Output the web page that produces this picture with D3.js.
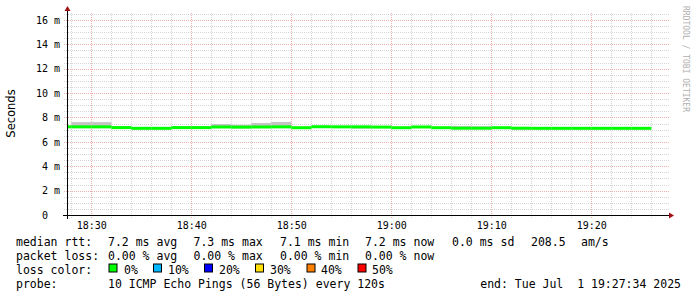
<!DOCTYPE html>
<html>
<head>
<meta charset="utf-8">
<script src="https://cdn.jsdelivr.net/npm/d3@7"></script>
<style>
    body { margin: 0; background: #fff; }
    svg { display: block; }
</style>
</head>
<body>
<div id="chart"></div>
<script>
// step boundaries (2025-07-01), one more than the number of steps
const stepBounds = ["18:26","18:28","18:30","18:32","18:34","18:36","18:38","18:40","18:42","18:44",
    "18:46","18:48","18:50","18:52","18:54","18:56","18:58","19:00","19:02","19:04",
    "19:06","19:08","19:10","19:12","19:14","19:16","19:18","19:20","19:22","19:24","19:26"];

// median rtt per step (ms)
const medianMs = [7.23, 7.23, 7.23, 7.17, 7.11, 7.11, 7.17, 7.17, 7.22, 7.21,
    7.22, 7.23, 7.16, 7.24, 7.23, 7.23, 7.21, 7.16, 7.22, 7.16,
    7.12, 7.12, 7.16, 7.12, 7.11, 7.11, 7.11, 7.11, 7.11, 7.11];

// smoke (spread of pings) per step (ms)
const smokeHiMs = [7.25, 7.62, 7.62, 7.30, 7.13, 7.13, 7.19, 7.19, 7.46, 7.40,
    7.55, 7.63, 7.18, 7.26, 7.25, 7.25, 7.23, 7.18, 7.24, 7.18,
    7.30, 7.28, 7.18, 7.14, 7.13, 7.13, 7.13, 7.13, 7.13, 7.13];
const smokeLoMs = [7.20, 7.18, 7.18, 7.14, 7.09, 7.09, 7.14, 7.14, 7.19, 7.10,
    7.19, 7.20, 7.14, 7.21, 7.20, 7.08, 7.19, 7.14, 7.19, 7.14,
    7.10, 7.10, 7.14, 7.00, 7.09, 7.09, 7.09, 7.09, 7.09, 7.09];

const xTickLabels = ["18:30", "18:40", "18:50", "19:00", "19:10", "19:20"];
const yTickValues = [0, 2, 4, 6, 8, 10, 12, 14, 16];

const legendRtt = ["median rtt:", "7.2 ms avg", "7.3 ms max", "7.1 ms min", "7.2 ms now", "0.0 ms sd", "208.5", "am/s"];
const legendLoss = ["packet loss:", "0.00 % avg", "0.00 % max", "0.00 % min", "0.00 % now"];
const lossLabels = ["0%", "10%", "20%", "30%", "40%", "50%"];
const lossColors = ["#00ff00", "#00b8ff", "#0000ff", "#ffe000", "#ff8000", "#ff0000"];
const probeText = "10 ICMP Echo Pings (56 Bytes) every 120s";
const endText = "end: Tue Jul  1 19:27:34 2025";
const startTime = "18:27:34", endTime = "19:27:34";

const parseTime = d3.timeParse("%Y-%m-%d %H:%M:%S");
const t = s => parseTime("2025-07-01 " + (s.length === 5 ? s + ":00" : s));

const W = 697, H = 297;
const plot = {left: 67, right: 667, top: 13, bottom: 215};
const mono = "'DejaVu Sans Mono', monospace";

const svg = d3.select("#chart").append("svg")
    .attr("width", W)
    .attr("height", H)
    .style("background", "#fff");

// scales
const x = d3.scaleTime()
    .domain([t(startTime), t(endTime)])
    .range([plot.left, plot.right]);
const y = d3.scaleLinear()
    .domain([0, 16.57])
    .range([plot.bottom, plot.top]);

// grid: minor first, major on top
const gridG = svg.append("g").attr("class", "grid");
const minorY = d3.range(0, 16.6, 0.5).filter(v => v % 2 !== 0);
gridG.selectAll(".hminor").data(minorY).enter().append("line")
    .attr("x1", plot.left - 3).attr("x2", plot.right + 2)
    .attr("y1", d => Math.round(y(d)) + 0.5).attr("y2", d => Math.round(y(d)) + 0.5)
    .attr("stroke", "#d6d6d6").attr("stroke-dasharray", "1,1");
const minorX = x.ticks(d3.timeMinute.every(2)).filter(d => d.getMinutes() % 10 !== 0);
gridG.selectAll(".vminor").data(minorX).enter().append("line")
    .attr("x1", d => Math.round(x(d)) + 0.5).attr("x2", d => Math.round(x(d)) + 0.5)
    .attr("y1", plot.top).attr("y2", plot.bottom + 3)
    .attr("stroke", "#d6d6d6").attr("stroke-dasharray", "1,1");
gridG.selectAll(".hmajor").data(yTickValues.filter(v => v > 0)).enter().append("line")
    .attr("x1", plot.left - 3).attr("x2", plot.right + 2)
    .attr("y1", d => Math.round(y(d)) + 0.5).attr("y2", d => Math.round(y(d)) + 0.5)
    .attr("stroke", "#f0b0b0").attr("stroke-dasharray", "1,1");
gridG.selectAll(".vmajor").data(xTickLabels.map(t)).enter().append("line")
    .attr("x1", d => Math.round(x(d)) + 0.5).attr("x2", d => Math.round(x(d)) + 0.5)
    .attr("y1", plot.top).attr("y2", plot.bottom + 3)
    .attr("stroke", "#f0b0b0").attr("stroke-dasharray", "1,1");

// clip for the data
svg.append("defs").append("clipPath").attr("id", "clip")
    .append("rect")
    .attr("x", plot.left + 1).attr("y", plot.top)
    .attr("width", plot.right - plot.left).attr("height", plot.bottom - plot.top);

const steps = medianMs.map((m, i) => ({
    t0: t(stepBounds[i]), t1: t(stepBounds[i + 1]),
    med: m, hi: smokeHiMs[i], lo: smokeLoMs[i]
}));

const dataG = svg.append("g").attr("clip-path", "url(#clip)");

// smoke
dataG.selectAll(".smoke").data(steps).enter().append("rect")
    .attr("x", d => x(d.t0)).attr("width", d => x(d.t1) - x(d.t0))
    .attr("y", d => y(d.hi)).attr("height", d => y(d.lo) - y(d.hi))
    .attr("fill", "#c4c4c4");

// median, coloured by loss
dataG.selectAll(".median").data(steps).enter().append("rect")
    .attr("x", d => x(d.t0)).attr("width", d => x(d.t1) - x(d.t0))
    .attr("y", d => y(d.med) - 1.5).attr("height", 3)
    .attr("fill", lossColors[0]);

// axis lines with arrows
svg.append("line")
    .attr("x1", plot.left - 4).attr("x2", plot.right + 4)
    .attr("y1", plot.bottom + 0.5).attr("y2", plot.bottom + 0.5)
    .attr("stroke", "#000");
svg.append("line")
    .attr("x1", plot.left + 0.5).attr("x2", plot.left + 0.5)
    .attr("y1", plot.bottom + 4).attr("y2", plot.top - 3)
    .attr("stroke", "#000");
svg.append("path")
    .attr("d", `M${plot.right + 2},${plot.bottom - 2.5}L${plot.right + 7},${plot.bottom + 0.5}L${plot.right + 2},${plot.bottom + 3.5}Z`)
    .attr("fill", "#a01010");
svg.append("path")
    .attr("d", `M${plot.left - 2.5},${plot.top - 2}L${plot.left + 0.5},${plot.top - 7}L${plot.left + 3.5},${plot.top - 2}Z`)
    .attr("fill", "#a01010");

// x axis labels
const xAxis = svg.append("g")
    .attr("transform", `translate(0,${plot.bottom})`)
    .call(d3.axisBottom(x).tickValues(xTickLabels.map(t)).tickSize(0).tickPadding(6.5)
        .tickFormat(d3.timeFormat("%H:%M")));
xAxis.select(".domain").remove();
xAxis.selectAll("text").attr("font-family", mono).attr("font-size", "10px").attr("fill", "#000");

// y axis labels
const yAxis = svg.append("g")
    .attr("transform", `translate(${plot.left},0)`)
    .call(d3.axisLeft(y).tickValues(yTickValues).tickSize(0).tickPadding(7)
        .tickFormat(d => d === 0 ? "0\u00a0\u00a0" : d + " m"));
yAxis.select(".domain").remove();
yAxis.selectAll("text").attr("font-family", mono).attr("font-size", "10px").attr("fill", "#000");

// vertical axis title
svg.append("text")
    .attr("transform", "translate(15,113.5) rotate(-90)")
    .attr("text-anchor", "middle")
    .attr("font-family", "'DejaVu Sans', sans-serif")
    .attr("font-size", "11.5px")
    .attr("fill", "#000")
    .text("Seconds");

// watermark
svg.append("text")
    .attr("transform", "translate(683,59) rotate(90)")
    .attr("text-anchor", "middle")
    .attr("font-family", mono)
    .attr("font-size", "8px")
    .attr("fill", "#b0b0b0")
    .text("RRDTOOL / TOBI OETIKER");

// legend
const legendCols = [16, 108, 193.5, 280, 365, 452, 531, 581];
const rowY = [245.5, 259.5, 273.5, 287.5];
const legend = svg.append("g")
    .attr("font-family", mono)
    .attr("font-size", "11.5px")
    .attr("fill", "#000")
    .style("white-space", "pre");

legend.selectAll(".rtt").data(legendRtt).enter().append("text")
    .attr("x", (d, i) => legendCols[i]).attr("y", rowY[0]).text(d => d);
legend.selectAll(".loss").data(legendLoss).enter().append("text")
    .attr("x", (d, i) => legendCols[i]).attr("y", rowY[1]).text(d => d);

legend.append("text").attr("x", 16).attr("y", rowY[2]).text("loss color:");
const boxX = [108.5, 153, 204, 255, 306.5, 357.5];
const boxTextX = [124, 168, 219, 270, 321, 372];
legend.selectAll(".box").data(lossColors).enter().append("rect")
    .attr("x", (d, i) => boxX[i] + 0.5).attr("y", rowY[2] - 9.5)
    .attr("width", 8).attr("height", 8)
    .attr("fill", d => d).attr("stroke", "#000");
legend.selectAll(".boxlab").data(lossLabels).enter().append("text")
    .attr("x", (d, i) => boxTextX[i]).attr("y", rowY[2]).text(d => d);

legend.append("text").attr("x", 16).attr("y", rowY[3]).text("probe:");
legend.append("text").attr("x", 108).attr("y", rowY[3]).text(probeText);
legend.append("text").attr("x", 681).attr("y", rowY[3]).attr("text-anchor", "end")
    .attr("xml:space", "preserve").text(endText);
</script>
</body>
</html>
